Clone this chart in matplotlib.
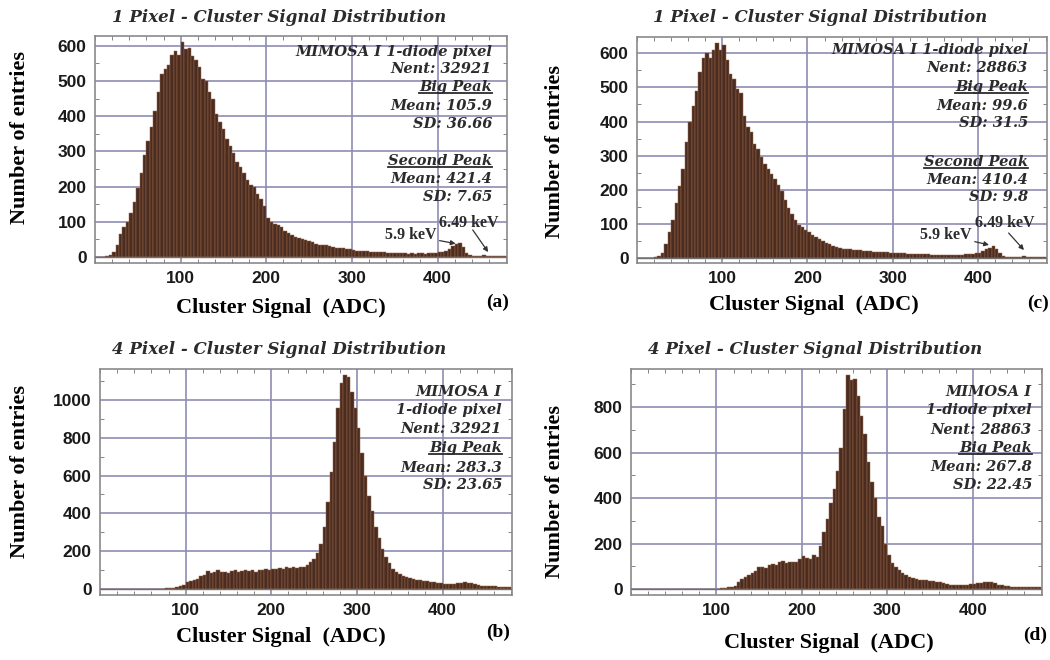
import matplotlib
matplotlib.use("Agg")
import matplotlib.pyplot as plt
import matplotlib.ticker as ticker
from matplotlib.lines import Line2D
import numpy as np

# histogram bins: 4 ADC wide, 0..480
bin_edges = np.arange(0, 484, 4)

# (a) 1 pixel, first sample
counts_a = [0, 0, 0, 3, 6, 15, 35, 65, 85, 100,
            125, 155, 195, 240, 290, 330, 370, 415, 470, 520,
            535, 545, 575, 585, 575, 610, 590, 595, 570, 560,
            540, 505, 500, 470, 450, 405, 385, 365, 335, 315,
            295, 270, 255, 240, 220, 205, 200, 180, 165, 145,
            110, 100, 95, 90, 85, 75, 68, 62, 58, 55,
            50, 48, 45, 42, 38, 35, 33, 33, 30, 29,
            27, 25, 25, 23, 22, 20, 17, 16, 18, 16,
            15, 14, 13, 13, 14, 12, 11, 11, 10, 10,
            10, 9, 10, 9, 10, 10, 9, 10, 11, 12,
            13, 15, 17, 22, 32, 38, 40, 28, 12, 5,
            3, 3, 4, 5, 4, 4, 4, 3, 3, 2]

# (b) 4 pixel, first sample
counts_b = [0, 0, 0, 0, 0, 0, 0, 0, 0, 0,
            0, 0, 0, 0, 0, 0, 1, 2, 2, 3,
            4, 6, 10, 14, 22, 35, 42, 45, 55, 68,
            75, 95, 85, 90, 98, 88, 92, 85, 95, 100,
            90, 95, 98, 95, 100, 92, 98, 100, 105, 102,
            108, 105, 110, 108, 115, 112, 115, 113, 118, 115,
            125, 140, 160, 190, 240, 330, 460, 620, 780, 960,
            1090, 1130, 1120, 1040, 960, 850, 720, 600, 490, 410,
            330, 270, 210, 170, 135, 105, 90, 78, 70, 64,
            58, 55, 50, 45, 42, 40, 38, 35, 32, 30,
            26, 25, 26, 28, 30, 34, 36, 33, 30, 25,
            22, 18, 16, 14, 13, 15, 11, 10, 9, 8]

# (c) 1 pixel, second sample
counts_c = [0, 0, 0, 0, 0, 2, 6, 15, 40, 75,
            110, 160, 210, 260, 340, 400, 445, 490, 545, 585,
            600, 585, 610, 630, 610, 625, 580, 540, 525, 495,
            485, 415, 385, 370, 335, 320, 295, 275, 260, 245,
            230, 215, 195, 170, 145, 130, 112, 97, 90, 82,
            75, 68, 62, 55, 50, 45, 40, 36, 33, 30,
            27, 25, 25, 24, 23, 22, 20, 20, 19, 18,
            17, 17, 16, 16, 15, 15, 14, 13, 13, 12,
            12, 11, 11, 10, 10, 10, 9, 9, 8, 8,
            8, 8, 8, 8, 8, 9, 10, 11, 12, 14,
            15, 20, 25, 30, 35, 25, 15, 6, 3, 2,
            2, 2, 3, 5, 4, 3, 3, 2, 2, 2]

# (d) 4 pixel, second sample
counts_d = [0, 0, 0, 0, 0, 0, 0, 0, 0, 0,
            0, 0, 0, 0, 0, 0, 0, 0, 0, 0,
            0, 0, 0, 0, 0, 1, 3, 5, 8, 10,
            15, 30, 45, 55, 62, 70, 78, 98, 95, 92,
            105, 110, 108, 118, 122, 115, 120, 117, 118, 130,
            145, 135, 130, 150, 140, 190, 250, 310, 380, 440,
            520, 620, 790, 940, 920, 925, 850, 760, 680, 560,
            470, 400, 315, 275, 200, 150, 115, 95, 82, 72,
            62, 55, 50, 45, 40, 40, 38, 37, 35, 32,
            30, 25, 22, 20, 19, 18, 18, 19, 20, 22,
            23, 25, 28, 30, 32, 30, 27, 20, 16, 14,
            12, 11, 10, 9, 9, 8, 8, 7, 7, 7]

titles = ["1 Pixel - Cluster Signal Distribution",
          "4 Pixel - Cluster Signal Distribution"]

stats_a = ["MIMOSA I 1-diode pixel", "Nent: 32921", "Big Peak", "Mean: 105.9",
           "SD: 36.66", "Second Peak", "Mean: 421.4", "SD: 7.65"]
stats_c = ["MIMOSA I 1-diode pixel", "Nent: 28863", "Big Peak", "Mean: 99.6",
           "SD: 31.5", "Second Peak", "Mean: 410.4", "SD: 9.8"]
stats_b = ["MIMOSA I", "1-diode pixel", "Nent: 32921", "Big Peak",
           "Mean: 283.3", "SD: 23.65"]
stats_d = ["MIMOSA I", "1-diode pixel", "Nent: 28863", "Big Peak",
           "Mean: 267.8", "SD: 22.45"]

W, H = 1050, 660
SERIF = "Liberation Serif"
WIDE_SERIF = "DejaVu Serif"
SANS = "Liberation Sans"
TXT = "#2b2b2b"

fig = plt.figure(figsize=(10.5, 6.6), dpi=100)


def px(x, y):
    """pixel position -> figure fraction"""
    return x / W, 1 - y / H


def make_panel(rect, counts, ylim, yticks):
    ax = fig.add_axes(rect)
    ax.bar(bin_edges[:-1], counts, width=4, align="edge",
           color="#4a2c20", edgecolor="#9b6648", linewidth=0.35, zorder=3)
    ax.set_xlim(0, 481)
    ax.set_ylim(*ylim)
    ax.set_xticks([100, 200, 300, 400])
    ax.set_yticks(yticks)
    ax.xaxis.set_minor_locator(ticker.MultipleLocator(20))
    ax.yaxis.set_minor_locator(ticker.MultipleLocator(yticks[1] / 2))
    ax.tick_params(which="both", direction="in", top=True, right=True,
                   color="#707070")
    ax.tick_params(which="major", length=0, pad=6)
    ax.tick_params(which="minor", length=3)
    for lab in ax.get_xticklabels() + ax.get_yticklabels():
        lab.set_fontfamily(SANS)
        lab.set_fontweight("bold")
        lab.set_fontsize(12.5)
        lab.set_color("#1a1a1a")
    ax.grid(True, which="major", color="#8e8cb4", linewidth=1.2, zorder=1)
    ax.axhline(0, color="#707070", linewidth=1.0, zorder=4)
    for s in ax.spines.values():
        s.set_color("#8a8a8a")
        s.set_linewidth(1.2)
    return ax


ax_a = make_panel([95 / W, 1 - 263 / H, 412 / W, 227 / H], counts_a,
                  (-17, 628), [0, 100, 200, 300, 400, 500, 600])
ax_c = make_panel([637 / W, 1 - 263 / H, 410 / W, 226 / H], counts_c,
                  (-15, 648), [0, 100, 200, 300, 400, 500, 600])
ax_b = make_panel([100 / W, 1 - 595 / H, 412 / W, 226 / H], counts_b,
                  (-32, 1164), [0, 200, 400, 600, 800, 1000])
ax_d = make_panel([631 / W, 1 - 595 / H, 411 / W, 226 / H], counts_d,
                  (-26, 967), [0, 200, 400, 600, 800])

# titles
for (x, y), t in [((279, 17), titles[0]), ((820, 17), titles[0]),
                  ((279, 350), titles[1]), ((815, 350), titles[1])]:
    fig.text(*px(x, y), t, ha="center", va="center", fontfamily=WIDE_SERIF,
             fontstyle="italic", fontweight="bold", fontsize=12, color=TXT)

# axis labels
for x, y in [(20, 137), (555, 152), (20, 471), (555, 491)]:
    fig.text(*px(x, y), "Number of entries", rotation=90, ha="center",
             va="center", fontfamily=SERIF, fontweight="bold", fontsize=16)
for x, y in [(281, 308), (814, 305), (281, 637), (829, 643)]:
    fig.text(*px(x, y), "Cluster Signal  (ADC)", ha="center", va="center",
             fontfamily=SERIF, fontweight="bold", fontsize=16)
for (x, y), lab in [((498, 302), "(a)"), ((1038, 303), "(c)"),
                    ((498, 632), "(b)"), ((1035, 635), "(d)")]:
    fig.text(*px(x, y), lab, ha="center", va="center", fontfamily=SERIF,
             fontweight="bold", fontsize=14)

# statistics boxes
underlined = []
for xr, rows, lines in [
        (492, [52, 69, 87, 106, 124, 161, 179, 197], stats_a),
        (1028, [50, 68, 87, 106, 123, 162, 180, 197], stats_c),
        (502, [392, 410, 429, 448, 468, 485], stats_b),
        (1032, [392, 410, 430, 448, 467, 485], stats_d)]:
    for y, s in zip(rows, lines):
        t = fig.text(*px(xr, y), s, ha="right", va="center",
                     fontfamily=WIDE_SERIF, fontstyle="italic",
                     fontweight="bold", fontsize=10.5, color=TXT, zorder=6)
        if "Peak" in s:
            underlined.append(t)

# keV markers
for ax, tip59, txt59, tip649, tail649, txt649 in [
        (ax_a, (421, 38), (399, 62), (459, 14), (441, 77), (436, 96)),
        (ax_c, (413, 38), (393, 67), (454, 23), (436, 73), (432, 102))]:
    ax.annotate("5.9 keV", xy=tip59, xytext=txt59, ha="right", va="center",
                fontfamily=SERIF, fontweight="bold", fontsize=11.5, color=TXT,
                arrowprops=dict(arrowstyle="-|>", color="#333333", lw=0.9,
                                mutation_scale=7, shrinkA=0, shrinkB=0),
                zorder=6)
    ax.text(*txt649, "6.49 keV", ha="center", va="center", fontfamily=SERIF,
            fontweight="bold", fontsize=11.5, color=TXT, zorder=6)
    ax.annotate("", xy=tip649, xytext=tail649,
                arrowprops=dict(arrowstyle="-|>", color="#333333", lw=0.9,
                                mutation_scale=7, shrinkA=0, shrinkB=0),
                zorder=6)

fig.canvas.draw()
inv = fig.transFigure.inverted()
for t in underlined:
    bb = t.get_window_extent(fig.canvas.get_renderer()).transformed(inv)
    fig.add_artist(Line2D([bb.x0, bb.x1], [bb.y0 + 0.001, bb.y0 + 0.001],
                          transform=fig.transFigure, color=TXT, lw=1.3))

fig.savefig("out.png", dpi=100)
